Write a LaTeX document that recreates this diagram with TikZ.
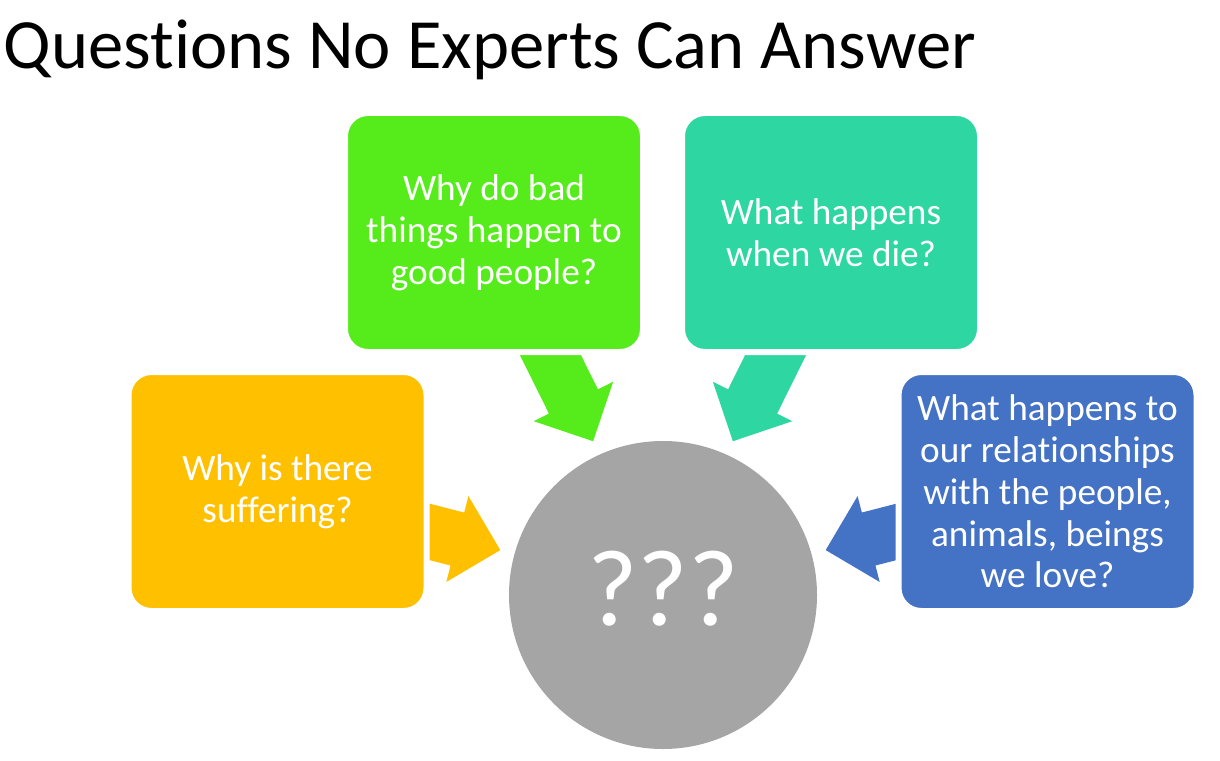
\documentclass[tikz,border=0pt]{standalone}
\usepackage{fontspec}
\setmainfont{Carlito}[Ligatures=NoCommon]
\usetikzlibrary{shapes.arrows,calc}

\definecolor{qgreen}{HTML}{56EB1B}
\definecolor{qteal}{HTML}{2ED6A1}
\definecolor{qorange}{HTML}{FFC000}
\definecolor{qblue}{HTML}{4472C4}
\definecolor{qgray}{HTML}{A5A5A5}

\newcommand{\bigarrow}[3]{%
  \path let \p1=($(#3)-(#2)$), \n1={atan2(\y1,\x1)}, \n2={veclen(\x1,\y1)} in
    node[bigarr, fill=#1, minimum height=\n2, rotate=\n1, anchor=tail] at (#2) {};
}

\begin{document}
\begin{tikzpicture}[
    qbox/.style={rounded corners=.46cm, draw=white, line width=.12cm, minimum width=5.96cm, minimum height=4.78cm, text=white, align=center, font=\fontsize{21.2}{23.8}\selectfont},
    bigarr/.style={single arrow, inner xsep=0pt, inner ysep=.54cm, minimum width=1.76cm, single arrow head extend=.34cm}
]
\useasboundingbox (0,0) rectangle (24.4,15.2);

\node[anchor=base west, inner sep=0pt, font=\fontsize{40.2}{48}\selectfont] (title) at (.07,13.82) {Questions No Experts Can Answer};

% arrows first, the boxes cover their tails
\coordinate (o-tail) at (7.94,4.73);   \coordinate (o-tip) at (10.0,4.2);
\coordinate (g-tail) at (10.71,8.70);  \coordinate (g-tip) at (11.86,6.38);
\coordinate (t-tail) at (15.81,8.70);  \coordinate (t-tip) at (14.66,6.38);
\coordinate (b-tail) at (18.58,4.73);  \coordinate (b-tip) at (16.52,4.2);
\foreach \c/\a in {qorange/o, qgreen/g, qteal/t, qblue/b}
{
    \bigarrow{\c}{\a-tail}{\a-tip}
}

\node[qbox, fill=qorange] (suffer) at (5.55,5.37) {Why is there\\suffering?};
\node[qbox, fill=qgreen] (bad) at (9.88,10.55) {Why do bad\\things happen to\\good people?};
\node[qbox, fill=qteal] (die) at (16.62,10.55) {What happens\\when we die?};
\node[qbox, fill=qblue] (love) at (20.95,5.37) {What happens to\\our relationships\\with the people,\\animals, beings\\we love?};

\node[circle, fill=qgray, minimum size=6.16cm, inner sep=0pt, text=white, text depth=.28cm, font=\fontsize{62}{70}\selectfont] (core) at (13.26,3.30) {???};
\end{tikzpicture}
\end{document}
